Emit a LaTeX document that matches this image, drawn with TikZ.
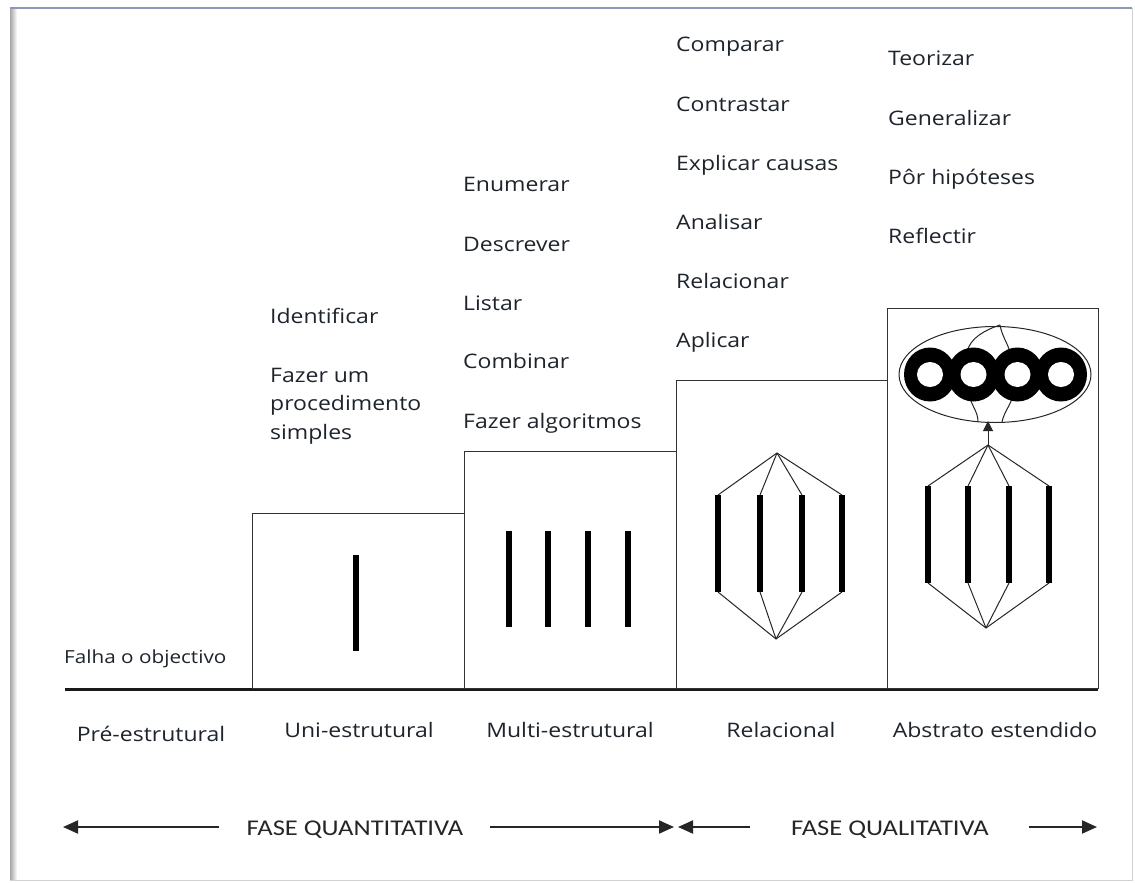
\documentclass[tikz,border=0pt]{standalone}
\usepackage{fontspec}
\setmainfont{Open Sans}
\newfontfamily\lbl[FakeStretch=1.15]{Open Sans}
\newfontfamily\fase[FakeStretch=1.18]{Carlito}
\usetikzlibrary{arrows.meta,shapes.geometric}
\definecolor{txt}{HTML}{1E242C}
\definecolor{frameblue}{HTML}{8A9AB8}
\begin{document}
\begin{tikzpicture}[x=1pt,y=-1pt,
  box/.style={draw=black!80, line width=1.2pt},
  bar/.style={line width=6.5pt, black},
  thinln/.style={draw=black!85, line width=1pt},
  lst/.style={anchor=base west, inner sep=0, text=txt, align=left, font=\lbl\fontsize{20}{28.5}\selectfont},
  lvl/.style={anchor=base, inner sep=0, text=txt, font=\lbl\fontsize{20}{24}\selectfont},
  fasetxt/.style={anchor=base, inner sep=0, text=black!85, font=\fase\fontsize{22.5}{26}\selectfont},
  phase/.style={line width=2pt, black!85, -{Triangle[length=15pt,width=13pt]}},
]
\useasboundingbox (0,0) rectangle (1135,883);
\fill[white] (0,0) rectangle (1135,883);
% frame
\shade[left color=gray!70, right color=white] (10,8) rectangle (17,880);
\draw[gray!35, line width=1pt] (1132,8) -- (1132,880) -- (10,880);
\draw[frameblue, line width=1.5pt] (10,8) -- (1132,8);

% baseline
\coordinate (g0) at (65,689);
\coordinate (g1) at (1098,689);
\draw[line width=3pt, black!90] (g0) -- (g1);

% boxes
\node[box, minimum width=212pt, minimum height=175pt, anchor=south west, inner sep=0] (uni) at (252,689) {};
\node[box, minimum width=212pt, minimum height=237pt, anchor=south west, inner sep=0] (multi) at (464,689) {};
\node[box, minimum width=211pt, minimum height=308pt, anchor=south west, inner sep=0] (rel) at (676,689) {};
\node[box, minimum width=211pt, minimum height=380pt, anchor=south west, inner sep=0] (abs) at (887,689) {};

% uni bar
\coordinate (u1) at (356,555); \coordinate (u2) at (356,651);
\draw[bar] (u1) -- (u2);

% multi bars
\foreach \x [count=\i] in {509,548,588,628}{
  \coordinate (m\i a) at (\x,531); \coordinate (m\i b) at (\x,627);
  \draw[bar] (m\i a) -- (m\i b);
}

% relational
\coordinate (rt) at (777,453);
\coordinate (rb) at (776,639);
\foreach \x [count=\i] in {718,760,802,842}{
  \coordinate (r\i a) at (\x,495); \coordinate (r\i b) at (\x,592);
  \draw[thinln] (rt) -- (r\i a);
  \draw[thinln] (r\i b) -- (rb);
  \draw[bar] (r\i a) -- (r\i b);
}

% extended abstract: lower structure
\coordinate (at) at (988,445);
\coordinate (ab) at (986,628);
\foreach \x [count=\i] in {928,968,1009,1049}{
  \coordinate (a\i a) at (\x,486); \coordinate (a\i b) at (\x,583);
  \draw[thinln] (at) -- (a\i a);
  \draw[thinln] (a\i b) -- (ab);
  \draw[bar] (a\i a) -- (a\i b);
}
% ellipse
\node[draw=black!85, line width=1pt, ellipse, minimum width=192pt, minimum height=96pt, inner sep=0] (ell) at (995,374.5) {};
\coordinate (et) at (1000,325);
\draw[thinln] (et) .. controls (985,330) and (970,338) .. (967,352);
\draw[thinln] (et) .. controls (1002,336) and (1007,342) .. (1010,352);
\draw[thinln] (978,422) .. controls (978,412) and (972,406) .. (970,398);
\draw[thinln] (1002,422) .. controls (1004,412) and (1010,406) .. (1012,398);
% rings
\foreach \x in {930,973.5,1017.5,1061}{
  \fill[black] (\x,374.5) ellipse [x radius=26, y radius=27];
}
\foreach \x in {930,973.5,1017.5,1061}{
  \fill[white] (\x,374.5) ellipse [x radius=13, y radius=12.5];
}
\draw[thinln, -{Triangle[length=10pt,width=10pt]}] (at) -- (988,421);

% texts
\node[lst, font=\lbl\fontsize{18}{22}\selectfont] (falha) at (64,663) {Falha o objectivo};
\node[lst] (ident) at (270,323) {Identificar};
\node[lst] (fazer) at (270,439) {Fazer um\\procedimento\\simples};

\node[lst] (enum) at (463,191) {Enumerar};
\node[lst] (desc) at (463,251) {Descrever};
\node[lst] (list) at (463,310) {Listar};
\node[lst] (comb) at (463,368) {Combinar};
\node[lst] (falg) at (463,428) {Fazer algoritmos};

\node[lst] (comp) at (676,52) {Comparar};
\node[lst] (cont) at (676,111) {Contrastar};
\node[lst] (expl) at (676,170) {Explicar causas};
\node[lst] (anal) at (676,229) {Analisar};
\node[lst] (relc) at (676,288) {Relacionar};
\node[lst] (apli) at (676,347) {Aplicar};

\node[lst] (teor) at (888,66) {Teorizar};
\node[lst] (gene) at (888,125) {Generalizar};
\node[lst] (hipo) at (888,184) {Pôr hipóteses};
\node[lst] (refl) at (888,243) {Reflectir};

\node[lvl] (l1) at (151,741) {Pré-estrutural};
\node[lvl] (l2) at (359,737) {Uni-estrutural};
\node[lvl] (l3) at (570,737) {Multi-estrutural};
\node[lvl] (l4) at (781,737) {Relacional};
\node[lvl] (l5) at (995,737) {Abstrato estendido};

% phases
\node[fasetxt] (fq) at (355,835) {FASE QUANTITATIVA};
\node[fasetxt] (fl) at (890,835) {FASE QUALITATIVA};
\coordinate (p1) at (63,827);
\coordinate (p2) at (219,827);
\coordinate (p3) at (490,827);
\coordinate (p4) at (674,827);
\coordinate (p5) at (678,827);
\coordinate (p6) at (750,827);
\coordinate (p7) at (1029,827);
\coordinate (p8) at (1097,827);
\draw[phase] (p2) -- (p1);
\draw[phase] (p3) -- (p4);
\draw[phase] (p6) -- (p5);
\draw[phase] (p7) -- (p8);
\end{tikzpicture}
\end{document}
